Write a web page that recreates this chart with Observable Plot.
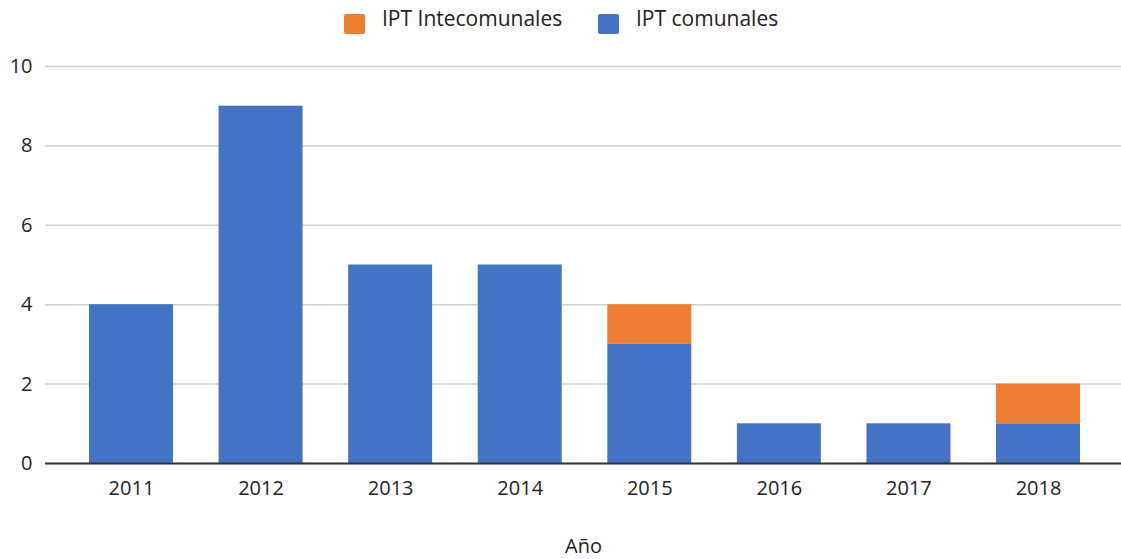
<!DOCTYPE html>
<html>
<head>
<meta charset="utf-8">
<script src="https://cdn.jsdelivr.net/npm/d3@7"></script>
<script src="https://cdn.jsdelivr.net/npm/@observablehq/plot@0.6"></script>
<style>
  body { margin: 0; background: #fff; font-family: "Open Sans", sans-serif; }
  #legend { height: 36px; position: relative; font-size: 21px; color: #222; }
  .sw { position: absolute; top: 14px; width: 21px; height: 20px; border-radius: 2px; }
  .lt { position: absolute; top: 4px; white-space: nowrap; line-height: 28px; }
</style>
</head>
<body>
<div id="legend">
  <div class="sw" style="left:344px;background:#ED7D31"></div>
  <div class="lt" style="left:382px">IPT Intecomunales</div>
  <div class="sw" style="left:598px;background:#4472C4"></div>
  <div class="lt" style="left:636px">IPT comunales</div>
</div>
<div id="chart"></div>
<script>
const years = ["2011","2012","2013","2014","2015","2016","2017","2018"];
const comunales = [4, 9, 5, 5, 3, 1, 1, 1];
const intercomunales = [0, 0, 0, 0, 1, 0, 0, 1];
const seriesNames = ["IPT Intecomunales", "IPT comunales"];
const seriesColors = ["#ED7D31", "#4472C4"];
const yTicks = [0, 2, 4, 6, 8, 10];

const data = [];
years.forEach((y, i) => {
  data.push({year: y, serie: "IPT comunales", value: comunales[i]});
  data.push({year: y, serie: "IPT Intecomunales", value: intercomunales[i]});
});

const chart = Plot.plot({
  width: 1121,
  height: 523,
  marginLeft: 45,
  marginRight: 0,
  marginTop: 30,
  marginBottom: 96,
  style: {fontFamily: "Open Sans, sans-serif", fontSize: "20px", color: "#222", background: "#fff"},
  x: {domain: years, range: [66.2, 1102.8], round: false, paddingInner: 0.352, paddingOuter: 0.176, label: null},
  y: {domain: [0, 10], label: null},
  color: {domain: seriesNames, range: seriesColors},
  marks: [
    Plot.gridY(yTicks, {stroke: "#cfcfcf", strokeOpacity: 1, strokeWidth: 1.5}),
    Plot.barY(data, {x: "year", y: "value", fill: "serie", order: ["IPT comunales", "IPT Intecomunales"]}),
    Plot.ruleY([0], {stroke: "#333", strokeWidth: 2}),
    Plot.axisY(yTicks, {tickSize: 0, tickPadding: 13, fontSize: 20, label: null}),
    Plot.axisX({tickSize: 0, tickPadding: 17, fontSize: 20, label: null}),
    Plot.text(["Año"], {frameAnchor: "bottom", dy: 89, fontSize: 20})
  ]
});
document.getElementById("chart").appendChild(chart);
</script>
</body>
</html>
